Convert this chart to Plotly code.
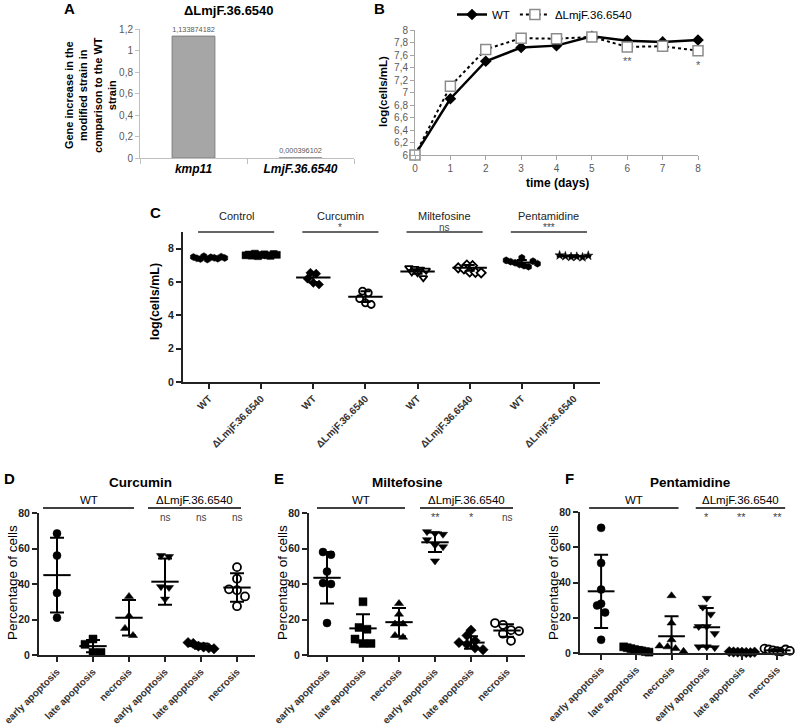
import numpy as np
import plotly.graph_objects as go

W, H = 798, 725
FONT = "Liberation Sans, Arial, sans-serif"

# ---------------- data ----------------
# Panel A
a_genes = ["kmp11", "LmjF.36.6540"]
a_values = [1.133874182, 0.000396102]
a_title = "ΔLmjF.36.6540"

# Panel B
b_days = [0, 1, 2, 3, 4, 5, 6, 7, 8]
b_wt = [6.0, 6.9, 7.5, 7.72, 7.75, 7.9, 7.83, 7.81, 7.84]
b_ko = [6.0, 7.1, 7.69, 7.87, 7.86, 7.89, 7.73, 7.74, 7.67]
b_sig_days = [6, 8]
b_sig_labels = ["**", "*"]
b_names = ["WT", "ΔLmjF.36.6540"]

# Panel C
c_treatments = ["Control", "Curcumin", "Miltefosine", "Pentamidine"]
c_sig = ["", "*", "ns", "***"]
c_strains = ["WT", "ΔLmjF.36.6540"]
c_points = [
    [7.50, 7.42, 7.38, 7.55, 7.35, 7.48, 7.45, 7.40, 7.52, 7.44],
    [7.60, 7.65, 7.58, 7.70, 7.55, 7.62, 7.66, 7.60, 7.57, 7.68, 7.63],
    [6.55, 6.50, 6.20, 5.95, 5.85],
    [5.45, 5.35, 5.00, 4.75, 4.65],
    [6.85, 6.80, 6.75, 6.70, 6.60, 6.55, 6.25],
    [7.02, 6.98, 6.85, 6.78, 6.60, 6.58, 6.55],
    [7.45, 7.30, 7.22, 7.15, 7.05, 6.98, 6.92, 7.25, 7.10],
    [7.60, 7.55, 7.50, 7.52, 7.48, 7.58],
]
c_means = [7.45, 7.62, 6.27, 5.12, 6.63, 6.85, 7.17, 7.55]
c_sds = [0.06, 0.05, 0.28, 0.32, 0.14, 0.17, 0.15, 0.05]

# Panels D, E, F
cell_states = ["early apoptosis", "late apoptosis", "necrosis",
               "early apoptosis", "late apoptosis", "necrosis"]
dfe_groups = ["WT", "ΔLmjF.36.6540"]

d_title = "Curcumin"
d_points = [[68.5, 56, 35, 21], [9, 6, 1.5, 1.5], [33, 22, 15, 11],
            [56, 55.5, 38.5, 38, 31.5], [7, 6.5, 5, 4.5, 4, 3.5],
            [49.5, 43, 37, 36.5, 33, 27.5]]
d_means = [45, 5, 21, 41.3, 5, 38]
d_sds = [21, 3.5, 10, 13, 1.5, 8]
d_sig = ["ns", "ns", "ns"]

e_title = "Miltefosine"
e_points = [[58, 56.5, 47, 40.5, 40, 18], [30, 15.5, 14.5, 9, 6.5, 6.5],
            [29, 23, 17.5, 17.5, 11, 10], [69.5, 68.5, 68, 65, 62, 61, 53],
            [14, 11, 8, 7, 6, 4, 3], [18, 17, 14, 13.5, 12, 8]]
e_means = [43.5, 15, 18.5, 63.5, 7, 13.8]
e_sds = [14.5, 8, 8, 5.5, 3.5, 3.5]
e_sig = ["**", "*", "ns"]

f_title = "Pentamidine"
f_points = [[71, 51, 36, 28, 27, 23, 7.5], [3.5, 3, 2.5, 2, 1.5, 1.2, 0.8, 0.5],
            [32.5, 17, 7.5, 4, 3.5, 2.5, 1], [31, 26, 22, 15, 15, 11, 3.5, 3.5, 3],
            [0.8, 0.6, 0.5, 0.4, 0.3, 0.2, 0.5], [2.5, 2, 1.5, 1, 0.8, 2, 1.2]]
f_means = [35, 2, 9.5, 14.6, 0.5, 1.5]
f_sds = [20.8, 1.2, 11.3, 11, 0.3, 0.6]
f_sig = ["*", "**", "**"]

# ---------------- helpers ----------------
def fx(px):
    return px / W


def fy(py):
    return 1 - py / H


def mapper(p0, p1, r0, r1):
    return lambda v: p0 + (v - r0) / (r1 - r0) * (p1 - p0)


annotations = []
shapes = []


def ann(text, x, y, size=12, bold=False, color="black", xanchor="center",
        yanchor="middle", angle=0):
    t = f"<b>{text}</b>" if bold else text
    annotations.append(dict(text=t, x=fx(x), y=fy(y), xref="paper", yref="paper",
                            showarrow=False, xanchor=xanchor, yanchor=yanchor,
                            textangle=angle,
                            font=dict(size=size, color=color, family=FONT)))


def hline(x0, x1, y, color="black", width=1.5):
    shapes.append(dict(type="line", xref="paper", yref="paper", x0=fx(x0), x1=fx(x1),
                       y0=fy(y), y1=fy(y), line=dict(color=color, width=width)))


def swarm(vals, ybin, xstep, maxhalf):
    order = sorted(range(len(vals)), key=lambda i: vals[i])
    offs = [0.0] * len(vals)
    groups, cur = [], []
    for i in order:
        if cur and vals[i] - vals[cur[0]] > ybin:
            groups.append(cur)
            cur = []
        cur.append(i)
    if cur:
        groups.append(cur)
    for g in groups:
        g = sorted(g)
        n = len(g)
        step = min(xstep, 2 * maxhalf / (n - 1)) if n > 1 else 0
        for k, i in enumerate(g):
            offs[i] = (k - (n - 1) / 2) * step
    return offs


def mstyle(sym, size):
    if sym.endswith("-open"):
        return dict(symbol=sym.replace("-open", ""), size=size, color="white",
                    line=dict(color="black", width=1.8))
    return dict(symbol=sym, size=size, color="black", line=dict(color="black", width=0.5))


fig = go.Figure()

# ---------------- Panel A ----------------
fig.add_trace(go.Bar(
    x=a_genes, y=a_values, width=0.4,
    marker=dict(color="#a6a6a6", line=dict(color="#7f7f7f", width=1)),
    text=[f"{v:.9f}".replace(".", ",") for v in a_values], textposition="outside",
    textfont=dict(size=9.5, color="#595959", family=FONT), cliponaxis=False,
    xaxis="x", yaxis="y", showlegend=False, hoverinfo="skip"))

ann("A", 62, 9, size=15, bold=True, xanchor="left")
ann(a_title, 229, 11, size=13, bold=True)
ann("Gene increase in the<br>modified strain in<br>comparison to the WT<br>strain",
    90, 95, size=11, bold=True, angle=-90)

# ---------------- Panel B ----------------
fig.add_trace(go.Scatter(
    x=b_days, y=b_wt, mode="lines+markers", name=b_names[0],
    line=dict(color="black", width=2.5),
    marker=dict(symbol="diamond", size=9, color="black"),
    xaxis="x2", yaxis="y2", cliponaxis=False))
fig.add_trace(go.Scatter(
    x=b_days, y=b_ko, mode="lines+markers", name=b_names[1],
    line=dict(color="black", width=2, dash="dot"),
    marker=dict(symbol="square", size=10, color="white",
                line=dict(color="#8c8c8c", width=1.5)),
    xaxis="x2", yaxis="y2", cliponaxis=False))
for d, lab in zip(b_sig_days, b_sig_labels):
    yv = b_ko[b_days.index(d)]
    annotations.append(dict(text=lab, x=d, y=yv, xref="x2", yref="y2", showarrow=False,
                            yshift=-14, font=dict(size=11, color="#595959", family=FONT)))

ann("B", 372, 8, size=15, bold=True, xanchor="left")
ann("log(cells/mL)", 383, 92, size=11.5, bold=True, angle=-90)
ann("time (days)", 557, 183, size=12, bold=True)

# ---------------- Panel C ----------------
c_symbols = ["hexagon", "square", "diamond", "circle-open",
             "triangle-down-open", "diamond-open", "hexagon", "star"]
for i, pts in enumerate(c_points):
    offs = swarm(pts, 0.42, 0.11, 0.3)
    fig.add_trace(go.Scatter(
        x=[i + o for o in offs], y=pts, mode="markers",
        marker=mstyle(c_symbols[i], 7), xaxis="x3", yaxis="y3",
        showlegend=False, cliponaxis=False, hoverinfo="skip"))
for i, (m, s) in enumerate(zip(c_means, c_sds)):
    fig.add_trace(go.Scatter(
        x=[i], y=[m], mode="markers", marker=dict(size=1, opacity=0),
        error_x=dict(type="data", array=[0.33], width=0, thickness=2, color="black"),
        error_y=dict(type="data", array=[s], width=5, thickness=2, color="black"),
        xaxis="x3", yaxis="y3", showlegend=False, hoverinfo="skip"))

cx = mapper(183, 600, -0.5, 7.5)
ann("C", 148, 212, size=15, bold=True, xanchor="left")
ann("log(cells/mL)", 155, 302, size=12.5, bold=True, angle=-90)
for g, (t, sg) in enumerate(zip(c_treatments, c_sig)):
    x0 = cx(2 * g) - 11
    x1 = cx(2 * g + 1) + 13
    hline(x0, x1, 232, color="#333333", width=1.5)
    ann(t, (x0 + x1) / 2, 216, size=11, color="#222222")
    if sg:
        ann(sg, (x0 + x1) / 2, 227, size=10, color="#444444")

# ---------------- Panels D, E, F ----------------
dfe_symbols = ["circle", "square", "triangle-up", "triangle-down", "diamond", "circle-open"]
panels = [
    dict(xa="x4", ya="y4", px=(39, 255), py=(655, 513), xr=(-0.5, 5.5),
         pts=d_points, means=d_means, sds=d_sds, sig=d_sig, title=d_title,
         letter="D", lx=2, tx=140, ytx=12, wt=(-14, 5), ko=(-17, 4)),
    dict(xa="x5", ya="y5", px=(309, 525), py=(655, 513), xr=(-0.5, 5.5),
         pts=e_points, means=e_means, sds=e_sds, sig=e_sig, title=e_title,
         letter="E", lx=272, tx=407, ytx=282, wt=(-10, 6), ko=(-15, 6)),
    dict(xa="x6", ya="y6", px=(580, 793), py=(653, 512), xr=(-0.6, 5.45),
         pts=f_points, means=f_means, sds=f_sds, sig=f_sig, title=f_title,
         letter="F", lx=563, tx=690, ytx=553, wt=(-12, 7), ko=(-11, 8)),
]

for P in panels:
    ppu_y = (P["py"][0] - P["py"][1]) / 80.0
    ppu_x = (P["px"][1] - P["px"][0]) / (P["xr"][1] - P["xr"][0])
    for i, pts in enumerate(P["pts"]):
        offs = swarm(pts, 8 / ppu_y, 8 / ppu_x, 0.36)
        fig.add_trace(go.Scatter(
            x=[i + o for o in offs], y=pts, mode="markers",
            marker=mstyle(dfe_symbols[i], 8), xaxis=P["xa"], yaxis=P["ya"],
            showlegend=False, cliponaxis=False, hoverinfo="skip"))
    for i, (m, s) in enumerate(zip(P["means"], P["sds"])):
        fig.add_trace(go.Scatter(
            x=[i], y=[m], mode="markers", marker=dict(size=1, opacity=0),
            error_x=dict(type="data", array=[0.38], width=0, thickness=2, color="black"),
            error_y=dict(type="data", array=[s], width=7, thickness=2, color="black"),
            xaxis=P["xa"], yaxis=P["ya"], showlegend=False, hoverinfo="skip"))
    mx = mapper(P["px"][0], P["px"][1], P["xr"][0], P["xr"][1])
    ann(P["letter"], P["lx"], 478, size=15, bold=True, xanchor="left")
    ann(P["title"], P["tx"], 482, size=13.5, bold=True)
    ann("Percentage of cells", P["ytx"], 583, size=13.5, angle=-90)
    # group brackets
    w0, w1 = mx(0) + P["wt"][0], mx(2) + P["wt"][1]
    k0, k1 = mx(3) + P["ko"][0], mx(5) + P["ko"][1]
    hline(w0, w1, 508, color="black", width=1.5)
    hline(k0, k1, 508, color="black", width=1.5)
    ann(dfe_groups[0], (w0 + w1) / 2, 500, size=11.5)
    ann(dfe_groups[1], (k0 + k1) / 2, 500, size=11.5)
    for j, sg in enumerate(P["sig"]):
        ann(sg, mx(3 + j), 517, size=10 if sg == "ns" else 11, color="#444444")

# ---------------- layout ----------------
grey_tick = dict(size=10, color="#595959", family=FONT)
bold_tick = dict(size=10.5, color="#222222", family=FONT)

layout_axes = dict(
    xaxis=dict(domain=[fx(140), fx(354)], anchor="y", type="category",
               showline=True, linecolor="#bfbfbf", linewidth=1,
               ticks="outside", tickson="boundaries", ticklen=5, tickcolor="#bfbfbf",
               tickvals=a_genes, ticktext=[f"<b><i>{g}</i></b>" for g in a_genes],
               tickfont=dict(size=12, color="black", family=FONT),
               showgrid=False, zeroline=False),
    yaxis=dict(domain=[fy(158), fy(29)], anchor="x", range=[0, 1.2],
               tickvals=[0, 0.2, 0.4, 0.6, 0.8, 1.0, 1.2],
               showline=True, linecolor="#bfbfbf", ticks="outside", ticklen=4,
               tickcolor="#bfbfbf", tickfont=grey_tick, showgrid=False, zeroline=False),
    xaxis2=dict(domain=[fx(415), fx(698)], anchor="y2", range=[0, 8], tickvals=b_days,
                showline=True, linecolor="#a6a6a6", ticks="outside", ticklen=4,
                tickcolor="#a6a6a6", tickfont=grey_tick, showgrid=False, zeroline=False),
    yaxis2=dict(domain=[fy(155), fy(30)], anchor="x2", range=[6, 8],
                tickvals=[6, 6.2, 6.4, 6.6, 6.8, 7, 7.2, 7.4, 7.6, 7.8, 8],
                showline=True, linecolor="#a6a6a6", ticks="outside", ticklen=4,
                tickcolor="#a6a6a6", tickfont=grey_tick, showgrid=False, zeroline=False),
    xaxis3=dict(domain=[fx(183), fx(600)], anchor="y3", range=[-0.5, 7.5],
                tickvals=list(range(8)),
                ticktext=[f"<b>{s}</b>" for t in c_treatments for s in c_strains],
                tickangle=-45, showline=True, linecolor="#222222", linewidth=2,
                ticks="outside", ticklen=5, tickwidth=2, tickcolor="#222222",
                tickfont=dict(size=10, color="#333333", family=FONT),
                showgrid=False, zeroline=False),
    yaxis3=dict(domain=[fy(382), fy(232)], anchor="x3", range=[0, 9],
                tickvals=[0, 2, 4, 6, 8], ticktext=["<b>0</b>", "<b>2</b>", "<b>4</b>", "<b>6</b>", "<b>8</b>"],
                showline=True, linecolor="#222222", linewidth=2, ticks="outside",
                ticklen=5, tickwidth=2, tickcolor="#222222", tickfont=bold_tick,
                showgrid=False, zeroline=False),
)
for P in panels:
    xn = P["xa"].replace("x", "xaxis")
    yn = P["ya"].replace("y", "yaxis")
    layout_axes[xn] = dict(domain=[fx(P["px"][0]), fx(P["px"][1])], anchor=P["ya"],
                           range=list(P["xr"]), tickvals=list(range(6)),
                           ticktext=[f"<b>{c}</b>" for c in cell_states], tickangle=-45,
                           showline=True, linecolor="#222222", linewidth=2,
                           ticks="outside", ticklen=5, tickwidth=2, tickcolor="#222222",
                           tickfont=dict(size=10, color="#333333", family=FONT),
                           showgrid=False, zeroline=False)
    layout_axes[yn] = dict(domain=[fy(P["py"][0]), fy(P["py"][1])], anchor=P["xa"],
                           range=[0, 80], tickvals=[0, 20, 40, 60, 80],
                           ticktext=[f"<b>{v}</b>" for v in [0, 20, 40, 60, 80]],
                           showline=True, linecolor="#222222", linewidth=2,
                           ticks="outside", ticklen=5, tickwidth=2, tickcolor="#222222",
                           tickfont=bold_tick, showgrid=False, zeroline=False)

for k in layout_axes:
    layout_axes[k]["automargin"] = False

fig.update_layout(
    width=W, height=H, margin=dict(l=0, r=0, t=0, b=0, autoexpand=False),
    paper_bgcolor="white", plot_bgcolor="white",
    separators=",.",
    font=dict(family=FONT, color="black"),
    showlegend=True,
    legend=dict(x=fx(452), y=fy(0), xanchor="left", yanchor="top", orientation="h",
                font=dict(size=11.5, family=FONT, color="black"),
                bgcolor="rgba(0,0,0,0)", itemwidth=30),
    annotations=annotations, shapes=shapes,
    hovermode=False,
    **layout_axes,
)

fig.write_html("out.html", config={"displayModeBar": False, "staticPlot": True},
               post_script="document.body.style.margin='0';document.body.style.padding='0';")
